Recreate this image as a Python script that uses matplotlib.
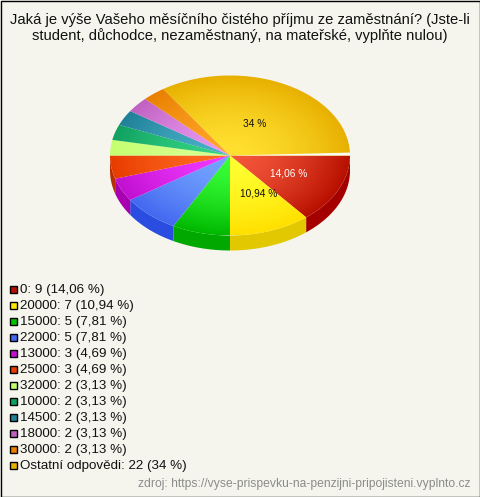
import numpy as np
import matplotlib
matplotlib.use("Agg")
import matplotlib.pyplot as plt
from matplotlib.patches import Polygon, Rectangle

plt.rcParams['font.family'] = ['Liberation Sans', 'DejaVu Sans']

title = "Jaká je výše Vašeho měsíčního čistého příjmu ze zaměstnání? (Jste-li\nstudent, důchodce, nezaměstnaný, na mateřské, vyplňte nulou)"
source = "zdroj: https://vyse-prispevku-na-penzijni-pripojisteni.vyplnto.cz"
labels = ["0", "20000", "15000", "22000", "13000", "25000", "32000", "10000", "14500", "18000", "30000", "Ostatní odpovědi"]
counts = [9, 7, 5, 5, 3, 3, 2, 2, 2, 2, 2, 22]
percents = ["14,06", "10,94", "7,81", "7,81", "4,69", "4,69", "3,13", "3,13", "3,13", "3,13", "3,13", "34"]
inner = ["#f4563a", "#ffff30", "#38ff38", "#74a4ff", "#f038ff", "#ff6a20", "#d8ff90", "#34d484", "#48b0c8", "#e898f0", "#ffa428", "#ffe030"]
outer = ["#b81000", "#ffe000", "#00b800", "#4468f0", "#c010d0", "#e83c00", "#c4ff70", "#10a060", "#208098", "#c060c0", "#e88000", "#e8b000"]
sides = ["#a40000", "#e2c800", "#00a800", "#2a4ce0", "#a800b0", "#b83000", "#a0d060", "#108050", "#186878", "#a050a0", "#c06800", "#c09000"]
swatch = ["#b81000", "#ffe800", "#00c000", "#4468f0", "#c010d0", "#e83c00", "#c4ff70", "#10a060", "#208098", "#c060c0", "#e88000", "#e8b000"]

cx, cy, rx, ry, depth = 230, 155.5, 120, 80, 15


def arc(a0, a1, dy=0):
    t = np.radians(np.linspace(a0, a1, 80))
    return np.column_stack([cx + rx * np.cos(t), cy + dy + ry * np.sin(t)])


fig = plt.figure(figsize=(4.80, 4.97), dpi=100, facecolor="#f5f5ee")
ax = fig.add_axes([0, 0, 1, 1])
ax.set_xlim(0, 480)
ax.set_ylim(497, 0)
ax.axis("off")

ax.add_patch(Rectangle((0.5, 0.5), 479, 496, fc="none", ec="black", lw=1))
ax.text(240, 28, title, ha="center", va="center", fontsize=10.6, color="#111111", linespacing=1.08)

# radial shading shared by all slices
xx, yy = np.meshgrid(np.linspace(cx - rx, cx + rx, 240), np.linspace(cy - ry, cy + ry, 160))
rad = np.clip(np.hypot((xx - cx) / rx, (yy - cy) / ry), 0, 1)[..., None] ** 1.6

edges = np.cumsum([0] + counts) / sum(counts) * 360
for i in range(len(counts)):
    a0, a1 = edges[i], edges[i + 1]
    # side wall, only the front half is visible
    if a0 < 180:
        top = arc(a0, min(a1, 180))
        ax.add_patch(Polygon(np.vstack([top, arc(min(a1, 180), a0, depth)]), fc=sides[i], ec="none", zorder=1))
    face = Polygon(np.vstack([[cx, cy], arc(a0, a1)]), fc="none", ec="none", transform=ax.transData)
    ax.add_patch(face)
    c_in = np.array(matplotlib.colors.to_rgb(inner[i]))
    c_out = np.array(matplotlib.colors.to_rgb(outer[i]))
    img = ax.imshow(c_in + (c_out - c_in) * rad, extent=(cx - rx, cx + rx, cy + ry, cy - ry), zorder=2, aspect="auto", interpolation="bilinear")
    img.set_clip_path(face)
ax.set_xlim(0, 480)
ax.set_ylim(497, 0)

# small gap at the end of the last slice
ax.add_patch(Polygon(np.vstack([[cx, cy], arc(357.9, 360)]), fc="#fbfbf6", ec="none", zorder=3))

ax.text(255, 124, percents[11] + " %", ha="center", va="center", fontsize=7.3, color="#111111", zorder=4)
ax.text(259, 194, percents[1] + " %", ha="center", va="center", fontsize=7.3, color="#111111", zorder=4)
ax.text(289, 174, percents[0] + " %", ha="center", va="center", fontsize=7.3, color="white", zorder=4)

for i, lab in enumerate(labels):
    y = 289.5 + i * 16
    ax.add_patch(Rectangle((9.5, y - 3.5), 7, 7, fc=swatch[i], ec="black", lw=1))
    ax.text(20, y, f"{lab}: {counts[i]} ({percents[i]} %)", ha="left", va="center", fontsize=9.6, color="#111111")

ax.text(470, 484.5, source, ha="right", va="center", fontsize=8.75, color="#8c8c8c")

fig.savefig("out.png", dpi=100, facecolor=fig.get_facecolor())
